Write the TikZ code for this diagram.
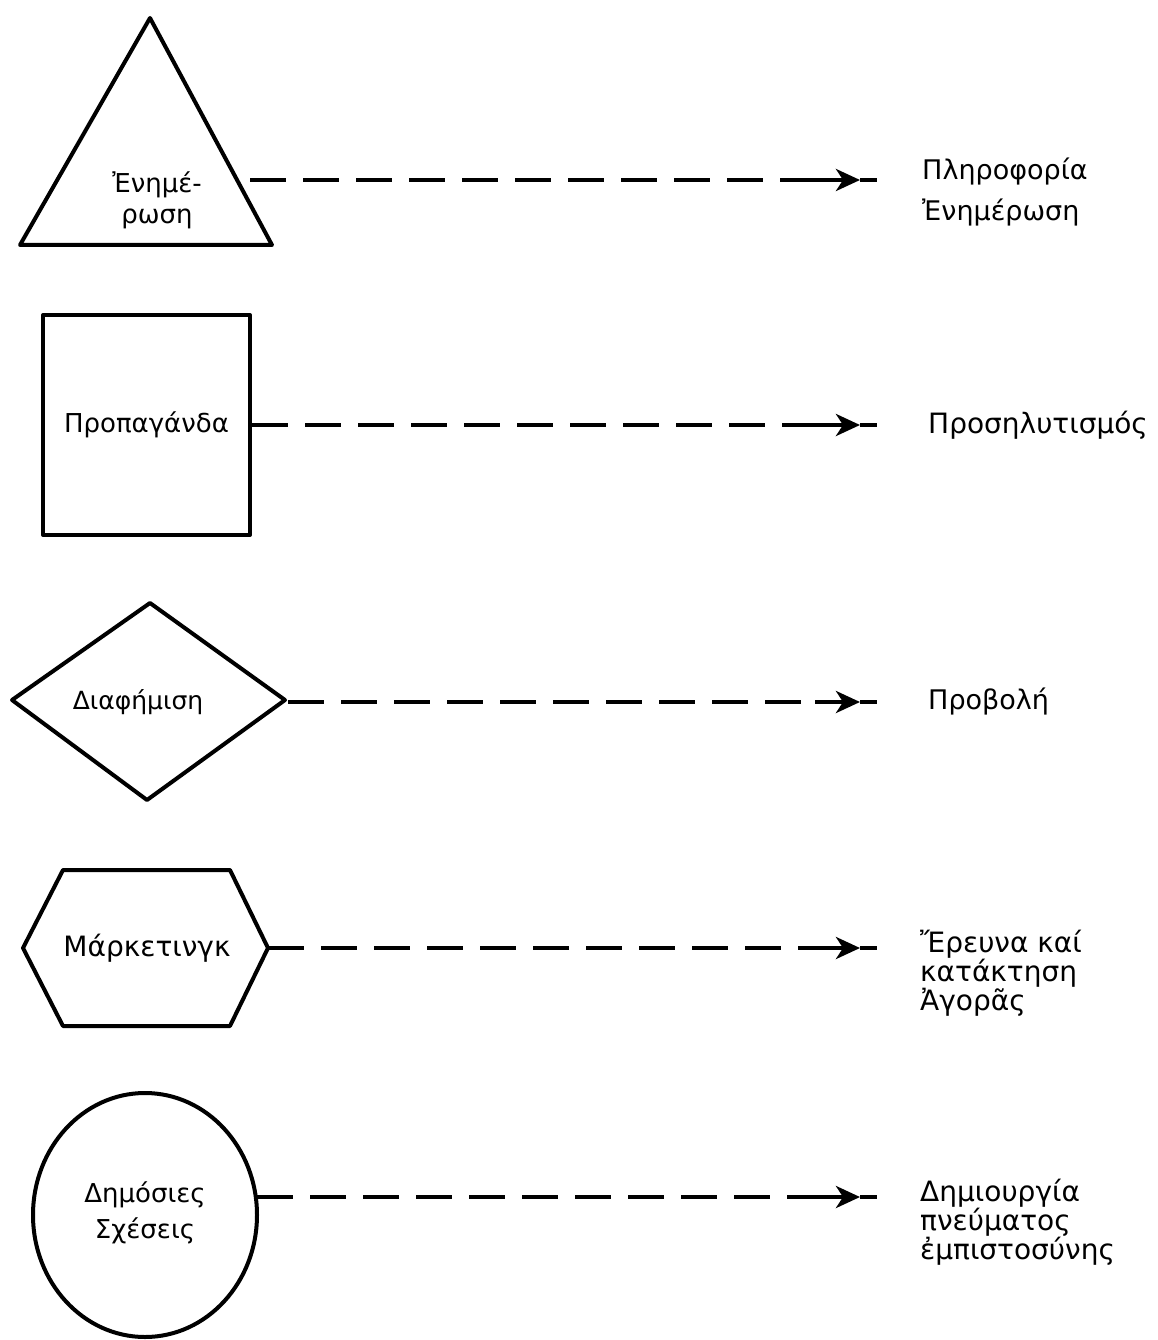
\documentclass[tikz,border=0pt]{standalone}
\usepackage{fontspec}
\setmainfont{DejaVu Sans}
\usetikzlibrary{arrows.meta,shapes.geometric}
\begin{document}
\begin{tikzpicture}[x=1pt,y=-1pt,
  figline/.style={line width=4pt, line join=round},
  conn/.style={line width=4pt, dash pattern=on 36pt off 17pt},
  tipline/.style={line width=4pt, -{Stealth[length=24pt,width=22pt,inset=7pt]}},
  lbl/.style={font=\fontsize{25}{30}\selectfont, align=center, inner sep=0pt},
  rlbl/.style={font=\fontsize{28}{27}\selectfont, align=left, anchor=west, inner sep=0pt}]
\useasboundingbox (0,0) rectangle (1157,1340);

% row 1: triangle
\draw[figline] (150,18) -- (272,245) -- (20,245) -- cycle;
\node[lbl, font=\fontsize{26}{31}\selectfont] (n1) at (157,200) {Ἐνημέ-\\ρωση};
\coordinate (s1) at (250,180);
\coordinate (m1) at (815,180);
\coordinate (a1) at (860,180);
\coordinate (e1) at (877,180);
\draw[conn] (s1) -- (m1);
\draw[tipline] (m1) -- (a1);
\draw[figline] (a1) -- (e1);
\node[rlbl, font=\fontsize{27}{41}\selectfont] (r1) at (922,192) {Πληροφορία\\Ἐνημέρωση};

% row 2: rectangle
\node[draw, figline, minimum width=207pt, minimum height=220pt, font=\fontsize{26}{28}\selectfont, inner sep=0pt] (n2) at (146.5,425) {Προπαγάνδα};
\coordinate (m2) at (815,425);
\coordinate (a2) at (860,425);
\coordinate (e2) at (877,425);
\draw[conn] (n2.east) -- (m2);
\draw[tipline] (m2) -- (a2);
\draw[figline] (a2) -- (e2);
\node[rlbl] (r2) at (928,425) {Προσηλυτισμός};

% row 3: diamond
\draw[figline] (12,700) -- (150,603) -- (285,700) -- (147,800) -- cycle;
\node[lbl] (n3) at (138,702) {Διαφήμιση};
\coordinate (s3) at (288,702);
\coordinate (m3) at (815,702);
\coordinate (a3) at (860,702);
\coordinate (e3) at (877,702);
\draw[conn] (s3) -- (m3);
\draw[tipline] (m3) -- (a3);
\draw[figline] (a3) -- (e3);
\node[rlbl, font=\fontsize{27}{27}\selectfont] (r3) at (928,702) {Προβολή};

% row 4: hexagon
\draw[figline] (23,948) -- (63,870) -- (230,870) -- (268,948) -- (230,1026) -- (63,1026) -- cycle;
\node[lbl, font=\fontsize{28}{30}\selectfont] (n4) at (147,948) {Μάρκετινγκ};
\coordinate (s4) at (268,948);
\coordinate (m4) at (815,948);
\coordinate (a4) at (860,948);
\coordinate (e4) at (877,948);
\draw[conn] (s4) -- (m4);
\draw[tipline] (m4) -- (a4);
\draw[figline] (a4) -- (e4);
\node[rlbl] (r4) at (920,973) {Ἔρευνα καί\\κατάκτηση\\Ἀγορᾶς};

% row 5: circle
\node[draw, figline, ellipse, minimum width=224pt, minimum height=244pt, inner sep=0pt] (n5) at (145,1215) {};
\node[lbl, font=\fontsize{26}{36}\selectfont] (t5) at (145,1213) {Δημόσιες\\Σχέσεις};
\coordinate (s5) at (257,1197);
\coordinate (m5) at (815,1197);
\coordinate (a5) at (860,1197);
\coordinate (e5) at (877,1197);
\draw[conn] (s5) -- (m5);
\draw[tipline] (m5) -- (a5);
\draw[figline] (a5) -- (e5);
\node[rlbl] (r5) at (920,1222) {Δημιουργία\\πνεύματος\\ἐμπιστοσύνης};
\end{tikzpicture}
\end{document}
